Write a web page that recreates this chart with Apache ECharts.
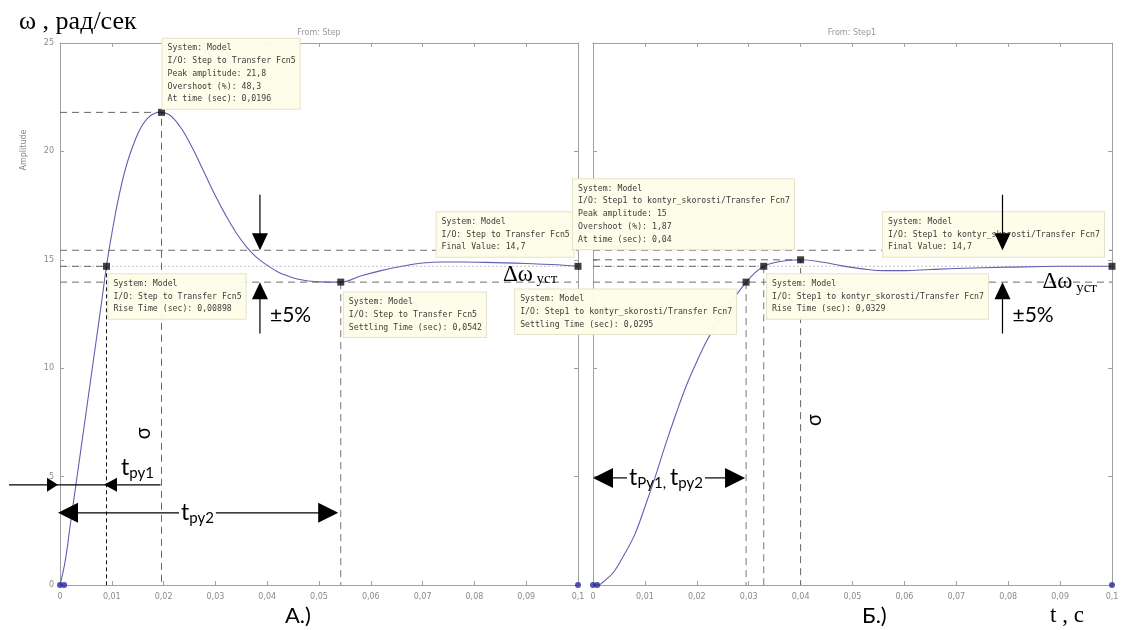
<!DOCTYPE html>
<html>
<head>
<meta charset="utf-8">
<script src="https://cdn.jsdelivr.net/npm/echarts@6/dist/echarts.min.js"></script>
<style>
html,body{margin:0;padding:0;background:#fff}
#c{width:1123px;height:630px}
</style>
</head>
<body>
<div id="c"></div>
<script>
// Tick labels shared by both panels
const xTickLabels = ['0','0,01','0,02','0,03','0,04','0,05','0,06','0,07','0,08','0,09','0,1'];
const yTickLabels = ['0','5','10','15','20','25'];

// Panel A: step response of Transfer Fcn5 (time, s / angular speed, rad/s)
const tA = [0,0.001,0.002,0.003,0.004,0.005,0.006,0.007,0.008,0.009,0.010,0.011,0.012,0.013,0.014,0.015,0.016,0.017,0.018,0.019,0.0196,0.021,0.022,0.023,0.024,0.026,0.028,0.030,0.032,0.034,0.036,0.038,0.040,0.042,0.044,0.046,0.048,0.050,0.0542,0.058,0.062,0.066,0.070,0.074,0.078,0.082,0.086,0.090,0.095,0.100];
const wA = [0,1.1,2.8,4.5,6.2,7.9,9.6,11.3,13.0,14.75,16.2,17.5,18.6,19.5,20.2,20.8,21.25,21.55,21.72,21.8,21.8,21.7,21.5,21.2,20.85,19.95,18.95,17.95,17.05,16.25,15.6,15.1,14.75,14.45,14.25,14.1,14.02,13.98,13.97,14.25,14.5,14.7,14.85,14.9,14.9,14.88,14.86,14.83,14.78,14.7];

// Panel B: step response of kontyr_skorosti/Transfer Fcn7
const tB = [0,0.001,0.002,0.004,0.006,0.008,0.010,0.012,0.014,0.016,0.018,0.020,0.022,0.024,0.026,0.028,0.0295,0.031,0.0329,0.036,0.040,0.044,0.048,0.052,0.056,0.060,0.065,0.070,0.080,0.090,0.100];
const wB = [0,0,0.15,0.6,1.4,2.3,3.6,5.0,6.5,7.9,9.2,10.3,11.3,12.1,12.85,13.5,13.97,14.35,14.7,14.92,15.0,14.9,14.72,14.58,14.5,14.5,14.55,14.6,14.66,14.7,14.7];

// Step characteristics [time, value]
const peakA = [0.0196, 21.8], riseA = [0.00898, 14.7], settleA = [0.0542, 13.97], finalA = [0.1, 14.7];
const peakB = [0.04, 15.0],   riseB = [0.0329, 14.7],  settleB = [0.0295, 13.97], finalB = [0.1, 14.7];
const bandHi = 15.44, bandLo = 13.97;   // ±5% of the final value
const endDots = [[0,0],[0.0008,0],[0.1,0]];

// Data-tip texts
const tipA = {
  peak:   ['System: Model','I/O: Step to Transfer Fcn5','Peak amplitude: 21,8','Overshoot (%): 48,3','At time (sec): 0,0196'],
  rise:   ['System: Model','I/O: Step to Transfer Fcn5','Rise Time (sec): 0,00898'],
  settle: ['System: Model','I/O: Step to Transfer Fcn5','Settling Time (sec): 0,0542'],
  final:  ['System: Model','I/O: Step to Transfer Fcn5','Final Value: 14,7']
};
const tipB = {
  peak:   ['System: Model','I/O: Step1 to kontyr_skorosti/Transfer Fcn7','Peak amplitude: 15','Overshoot (%): 1,87','At time (sec): 0,04'],
  rise:   ['System: Model','I/O: Step1 to kontyr_skorosti/Transfer Fcn7','Rise Time (sec): 0,0329'],
  settle: ['System: Model','I/O: Step1 to kontyr_skorosti/Transfer Fcn7','Settling Time (sec): 0,0295'],
  final:  ['System: Model','I/O: Step1 to kontyr_skorosti/Transfer Fcn7','Final Value: 14,7']
};

const zip = (a, b) => a.map((v, i) => [v, b[i]]);
const AXC = '#a0a0a0', LBL = '#8a8a8a';

function axesFor(g) {
  const base = {
    gridIndex: g, type: 'value', splitLine: {show: false},
    axisLine: {show: true, onZero: false, lineStyle: {color: AXC, width: 1}},
    axisTick: {show: true, inside: true, length: 4, lineStyle: {color: AXC}}
  };
  const xs = [
    Object.assign({}, base, {position: 'bottom', min: 0, max: 0.1, interval: 0.01,
      axisLabel: {color: LBL, fontSize: 8, margin: 8, fontFamily: 'DejaVu Sans',
        formatter: v => xTickLabels[Math.round(v / 0.01)]}}),
    Object.assign({}, base, {position: 'top', min: 0, max: 0.1, interval: 0.01, axisLabel: {show: false}})
  ];
  const ys = [
    Object.assign({}, base, {position: 'left', min: 0, max: 25, interval: 5,
      axisLabel: {show: g === 0, color: LBL, fontSize: 8, margin: 6, fontFamily: 'DejaVu Sans',
        formatter: v => yTickLabels[Math.round(v / 5)]}}),
    Object.assign({}, base, {position: 'right', min: 0, max: 25, interval: 5, axisLabel: {show: false}})
  ];
  return {xs, ys};
}

function lineSeries(g, data, color, type, width, z) {
  return {type: 'line', xAxisIndex: 2 * g, yAxisIndex: 2 * g, data, showSymbol: false, silent: true,
    lineStyle: {color, type, width}, z: z || 2, animation: false};
}

function panelSeries(g, t, w, peak, rise, settle, fin, riseColor, riseDash) {
  return [
    lineSeries(g, [[0, bandHi], [0.1, bandHi]], '#6e6e6e', [7, 5], 1),
    lineSeries(g, [[0, bandLo], [0.1, bandLo]], '#6e6e6e', [7, 5], 1),
    lineSeries(g, [[0, fin[1]], [0.1, fin[1]]], '#c4c4c4', [2, 2], 1),
    lineSeries(g, [[0, peak[1]], [peak[0], peak[1]], [peak[0], 0]], '#666', [7, 5], 1),
    lineSeries(g, [[0, rise[1]], [rise[0], rise[1]]], '#666', [7, 5], 1),
    lineSeries(g, [[rise[0], rise[1]], [rise[0], 0]], riseColor, riseDash, 1),
    lineSeries(g, [[settle[0], settle[1]], [settle[0], 0]], '#777', [7, 5], 1),
    {type: 'line', xAxisIndex: 2 * g, yAxisIndex: 2 * g, data: zip(t, w), showSymbol: false,
      smooth: 0.4, lineStyle: {color: '#6060b2', width: 1.1}, z: 4, animation: false},
    {type: 'scatter', xAxisIndex: 2 * g, yAxisIndex: 2 * g, data: endDots, symbol: 'circle', symbolSize: 6,
      itemStyle: {color: '#2b2b9e'}, z: 5, animation: false},
    {type: 'scatter', xAxisIndex: 2 * g, yAxisIndex: 2 * g, data: [peak, rise, settle, fin], symbol: 'rect',
      symbolSize: 7, itemStyle: {color: '#111'}, z: 6, animation: false}
  ];
}

const a0 = axesFor(0), a1 = axesFor(1);
const chart = echarts.init(document.getElementById('c'));
chart.setOption({
  animation: false,
  backgroundColor: '#fff',
  grid: [{left: 60, top: 43, width: 518, height: 542}, {left: 593, top: 43, width: 519, height: 542}],
  xAxis: [...a0.xs, ...a1.xs],
  yAxis: [...a0.ys, ...a1.ys],
  series: [
    ...panelSeries(0, tA, wA, peakA, riseA, settleA, finalA, '#111', [4, 3]),
    ...panelSeries(1, tB, wB, peakB, riseB, settleB, finalB, '#777', [7, 5])
  ]
});

// ---- overlay: data tips, arrows and captions ----
const px = (g, t, v) => chart.convertToPixel({gridIndex: g}, [t, v]);
const G = [];
const cvs = document.createElement('canvas').getContext('2d');
const textW = (s, font) => { cvs.font = font; return cvs.measureText(s).width; };

function tip(g, t, v, lines) {
  const p = px(g, t, v);
  G.push({type: 'text', z: 50, style: {x: p[0], y: p[1], text: lines.join('\n'),
    font: '8.2px "DejaVu Sans Mono"', fill: '#3c3c3c', lineHeight: 12.8,
    backgroundColor: 'rgba(253,253,232,0.96)', borderColor: '#e4e4cc', borderWidth: 1,
    padding: [3, 4, 3, 5], align: 'left', verticalAlign: 'top'}});
}
function seg(x1, y1, x2, y2, w) {
  G.push({type: 'line', z: 60, shape: {x1, y1, x2, y2}, style: {stroke: '#000', lineWidth: w || 1.2}});
}
function head(x, y, dir, L, H) {
  const pts = {r: [[x, y], [x - L, y - H], [x - L, y + H]], l: [[x, y], [x + L, y - H], [x + L, y + H]],
    d: [[x, y], [x - H, y - L], [x + H, y - L]], u: [[x, y], [x - H, y + L], [x + H, y + L]]}[dir];
  G.push({type: 'polygon', z: 61, shape: {points: pts}, style: {fill: '#000'}});
}
function txt(x, y, s, font, opts) {
  G.push({type: 'text', z: 62, rotation: (opts && opts.rot) || 0, x, y,
    style: Object.assign({x: 0, y: 0, text: s, font, fill: '#000', align: 'left', verticalAlign: 'middle'}, (opts && opts.style) || {})});
}
// main letter with a lowered subscript; returns the right edge
function subText(x, y, main, sub, fMain, fSub, dy) {
  txt(x, y, main, fMain);
  const w = textW(main, fMain);
  txt(x + w, y + dy, sub, fSub);
  return x + w + textW(sub, fSub);
}

// data tips
tip(0, 0.0198, 25.2, tipA.peak);
tip(0, 0.00935, 14.33, tipA.rise);
tip(0, 0.0548, 13.49, tipA.settle);
tip(0, 0.0727, 17.19, tipA.final);
tip(1, -0.00385, 18.72, tipB.peak);
tip(1, -0.0150, 13.63, tipB.settle);
tip(1, 0.03353, 14.33, tipB.rise);
tip(1, 0.05588, 17.19, tipB.final);

// ±5% tolerance arrows
[[0, 0.0386], [1, 0.0789]].forEach(([g, t]) => {
  const X = px(g, t, 0)[0];
  const yTop = px(g, t, 18.0)[1], yHi = px(g, t, bandHi)[1], yLo = px(g, t, bandLo)[1], yBot = px(g, t, 11.6)[1];
  seg(X, yTop, X, yHi - 4);
  head(X, yHi, 'd', 17, 8);
  seg(X, yLo + 4, X, yBot);
  head(X, yLo, 'u', 17, 8);
  txt(X + 10, yLo + 33, '±5%', '21px Lato');
});

// Δω уст captions
(function () {
  const fa = '23px "Liberation Serif"', fs = '15px "Liberation Serif"';
  let p = px(0, 0.0855, 14.7);
  subText(p[0], p[1] + 9, 'Δω', ' уст', fa, fs, 4);
  p = px(1, 0.0866, 14.7);
  subText(p[0], p[1] + 16, 'Δω', ' уст', fa, fs, 6);
})();

// rise-time arrows, panel A
(function () {
  const fM = '23px Lato', fS = '15px Lato';
  // t_ру1
  let y = px(0, 0, 4.62)[1];
  const x0 = px(0, 0, 0)[0], xr1 = px(0, 0.0085, 0)[0], xe1 = px(0, 0.0194, 0)[0];
  seg(9, y, xe1, y);
  head(x0 - 2, y, 'r', 11, 7);
  head(xr1, y, 'l', 13, 7);
  subText(xr1 + 17, y - 17, 't', 'ру1', fM, fS, 5);
  // t_ру2
  y = px(0, 0, 3.33)[1];
  const xr2 = px(0, 0.0537, 0)[0];
  head(x0 - 2, y, 'l', 20, 10);
  head(xr2, y, 'r', 20, 10);
  const tx = x0 + 121;
  seg(x0 + 16, y, tx - 2, y);
  const te = subText(tx, y, 't', 'ру2', fM, fS, 5);
  seg(te + 2, y, xr2 - 18, y);
})();

// rise/settling time arrow, panel B
(function () {
  const fM = '23px Lato', fS = '15px Lato';
  const y = px(1, 0, 4.94)[1];
  const xl = px(1, 0, 0)[0], xr = px(1, 0.0293, 0)[0];
  head(xl, y, 'l', 20, 10);
  head(xr, y, 'r', 20, 10);
  const tx = xl + 36;
  seg(xl + 18, y, tx - 2, y);
  let e = subText(tx, y, 't', 'Ру1,', fM, fS, 5);
  e = subText(e + 4, y, 't', 'ру2', fM, fS, 5);
  seg(e + 2, y, xr - 18, y);
})();

// σ marks
(function () {
  let p = px(0, 0.0163, 7.0);
  txt(p[0], p[1], 'σ', '20px "Noto Sans"', {rot: Math.PI / 2, style: {align: 'center'}});
  p = px(1, 0.0428, 7.6);
  txt(p[0], p[1], 'σ', '20px "Noto Sans"', {rot: Math.PI / 2, style: {align: 'center'}});
})();

// axis captions and panel titles
txt(19, 22, 'ω , рад/сек', '26px "Liberation Serif"');
txt(1050, 616, 't , c', '23px "Liberation Serif"');
txt(285, 616, 'А.)', '22px Lato');
txt(862, 616, 'Б.)', '22px Lato');
G.push({type: 'text', z: 40, x: 319, y: 33, style: {x: 0, y: 0, text: 'From: Step', font: '8px "DejaVu Sans"', fill: '#999', align: 'center', verticalAlign: 'middle'}});
G.push({type: 'text', z: 40, x: 852, y: 33, style: {x: 0, y: 0, text: 'From: Step1', font: '8px "DejaVu Sans"', fill: '#999', align: 'center', verticalAlign: 'middle'}});
G.push({type: 'text', z: 40, x: 24, y: 150, rotation: Math.PI / 2, style: {x: 0, y: 0, text: 'Amplitude', font: '8px "DejaVu Sans"', fill: '#888', align: 'center', verticalAlign: 'middle'}});

chart.setOption({graphic: {elements: G}});
</script>
</body>
</html>
